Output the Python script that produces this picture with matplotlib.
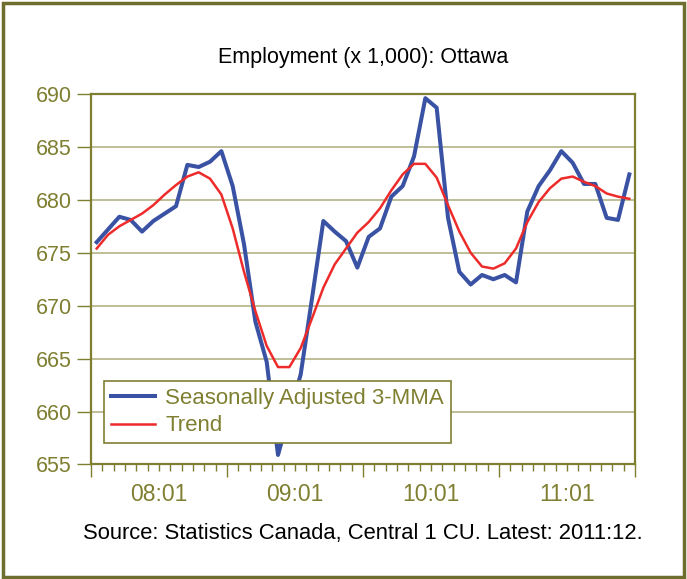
# Libraries
import matplotlib
matplotlib.use("Agg")
import matplotlib.pyplot as plt
from matplotlib.patches import Rectangle


# Data (monthly, 2008:01 - 2011:12)
seasonally_adjusted = [
    676.0, 677.2, 678.4, 678.1, 677.0, 678.0, 678.7, 679.4, 683.3, 683.1, 683.6, 684.6,
    681.3, 675.8, 668.5, 664.7, 655.9, 659.8, 663.5, 670.7, 678.0, 677.0, 676.1, 673.6,
    676.5, 677.3, 680.3, 681.3, 684.1, 689.6, 688.7, 678.3, 673.2, 672.0, 672.9, 672.5,
    672.9, 672.2, 678.9, 681.3, 682.8, 684.6, 683.5, 681.5, 681.5, 678.3, 678.1, 682.4,
]
trend = [
    675.4, 676.7, 677.5, 678.1, 678.7, 679.5, 680.5, 681.4, 682.2, 682.6, 682.0, 680.5,
    677.3, 673.2, 669.5, 666.2, 664.2, 664.2, 666.0, 668.8, 671.7, 673.9, 675.4, 676.9,
    677.9, 679.2, 680.9, 682.4, 683.4, 683.4, 682.1, 679.5, 677.0, 675.0, 673.7, 673.5,
    674.0, 675.4, 677.9, 679.8, 681.1, 682.0, 682.2, 681.7, 681.3, 680.6, 680.3, 680.1,
]
year_labels = ["08:01", "09:01", "10:01", "11:01"]
y_ticks = [655, 660, 665, 670, 675, 680, 685, 690]

olive = "#7f7f32"
grid_olive = "#b9b98f"
plt.rcParams["font.family"] = ["Liberation Sans", "DejaVu Sans"]

# Plot
fig = plt.figure(figsize=(6.87, 5.79), dpi=100)
ax = fig.add_axes([0.1325, 0.1978, 0.7918, 0.6399])

x = list(range(len(trend)))
ax.plot(x, seasonally_adjusted, color="#3a52a3", linewidth=2.9,
        label="Seasonally Adjusted 3-MMA", zorder=3)
ax.plot(x, trend, color="#ee2b2b", linewidth=1.8, label="Trend", zorder=4)

ax.set_xlim(-0.5, len(x) - 0.5)
ax.set_ylim(655, 690)

# y axis
ax.set_yticks(y_ticks)
ax.tick_params(axis="y", direction="out", length=10, width=1, color=olive,
               labelcolor=olive, labelsize=15.5, pad=4)
ax.yaxis.grid(True, color=grid_olive, linewidth=1.3)
ax.set_axisbelow(True)

# x axis: tick marks between months, labels centred on each year
n_years = len(year_labels)
ax.set_xticks([i * 12 - 0.5 for i in range(n_years + 1)])
ax.set_xticks([i - 0.5 for i in range(len(x) + 1)], minor=True)
ax.set_xticklabels([])
ax.tick_params(axis="x", which="major", direction="out", length=9, width=1, color=olive)
ax.tick_params(axis="x", which="minor", direction="out", length=5, width=1, color=olive)
for i, lab in enumerate(year_labels):
    ax.text(i * 12 + 5.5, -0.08, lab, transform=ax.get_xaxis_transform(),
            ha="center", va="center", color=olive, fontsize=16.5)

for side in ["left", "right", "top", "bottom"]:
    ax.spines[side].set_color(olive)
    ax.spines[side].set_linewidth(1.6)

leg = ax.legend(loc="lower left", bbox_to_anchor=(0.024, 0.058), borderaxespad=0,
                fancybox=False, framealpha=1, edgecolor=olive, fontsize=16,
                handlelength=2.0, handletextpad=0.45, labelspacing=0.28,
                borderpad=0.3, labelcolor=olive)
leg.get_frame().set_linewidth(1.2)

fig.text(0.528, 0.901, "Employment (x 1,000): Ottawa", ha="center", va="center",
         fontsize=15.5, color="black")
fig.text(0.528, 0.079, "Source: Statistics Canada, Central 1 CU. Latest: 2011:12.",
         ha="center", va="center", fontsize=15.8, color="black")

# outer border
fig.patches.append(Rectangle((0.005, 0.004), 0.99, 0.99, transform=fig.transFigure,
                             fill=False, edgecolor="#6e6e2e", linewidth=2.5))

fig.savefig("out.png", dpi=100)
